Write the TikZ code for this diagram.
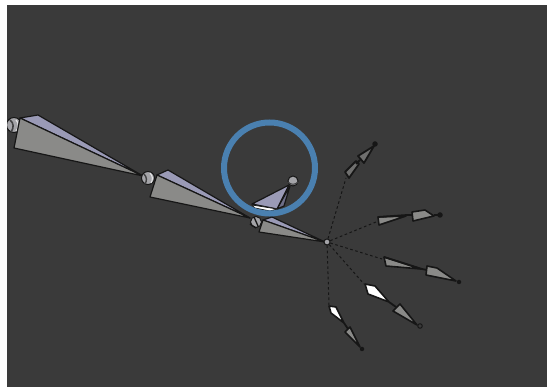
\documentclass[tikz,border=0pt]{standalone}
\definecolor{bg}{HTML}{3A3A3A}
\definecolor{grayface}{HTML}{8A8A88}
\definecolor{fingerface}{HTML}{6F6F6E}
\definecolor{lav}{HTML}{9A9AB6}
\definecolor{lavdark}{HTML}{6E6E88}
\definecolor{ring}{HTML}{4A80B0}
\definecolor{ball}{HTML}{A4A4A8}
\definecolor{ink}{HTML}{161616}
\tikzset{
  side/.style={fill=grayface,draw=ink,line width=1.2pt,line join=round},
  top/.style={fill=lav,draw=ink,line width=1.2pt,line join=round},
  finger/.style={fill=fingerface,draw=ink,line width=1.8pt,line join=round},
  finger light/.style={fill=grayface,draw=ink,line width=1.6pt,line join=round},
  finger white/.style={fill=white,draw=ink,line width=1.6pt,line join=round},
  joint/.style={circle,inner sep=0pt,fill=ball,draw=ink,line width=1pt},
  tipdot/.style={circle,inner sep=0pt,minimum size=5.5pt,fill=ink},
  link/.style={dash pattern=on 2.6pt off 2.6pt,draw=ink,line width=1pt},
  neck/.style={draw=ink,line width=1.8pt}
}
\begin{document}
\begin{tikzpicture}[x=1pt,y=-1pt]
\useasboundingbox (0,0) rectangle (547,387);
\fill[white] (0,0) rectangle (547,387);
\fill[bg] (7,5) rectangle (547,387);
% root joint
\begin{scope}
\clip (7,5) rectangle (547,387);
\node[joint,minimum size=15pt] (j0) at (14,125) {};
\draw[ink!70!ball,line width=1.6pt] (10,120) .. controls (14,123) and (14,128) .. (11,132);
\draw[white!70!ball,line width=1.2pt] (16,120) .. controls (19,123) and (19,128) .. (16,131);
\end{scope}
% arm bone 1
\fill[top] (20,118) -- (38,115) -- (143,176) -- cycle;
\fill[side] (20,118) -- (14,148) -- (143,176) -- cycle;
\node[joint,minimum size=13pt] (j1) at (148,178) {};
\draw[ink!70!ball,line width=1.4pt] (144,174) .. controls (147,177) and (147,181) .. (145,184);
\draw[white!70!ball,line width=1.1pt] (150,173) .. controls (153,176) and (153,180) .. (151,183);
% arm bone 2
\fill[top] (157,175) -- (168,170) -- (250,218) -- cycle;
\fill[side] (157,175) -- (150,197) -- (250,218) -- cycle;
% thumb
\filldraw[fill=lavdark,draw=ink,line width=1.2pt,line join=round] (277,209) -- (284,206) -- (290,186) -- cycle;
\filldraw[fill=lav,draw=ink,line width=1.2pt,line join=round] (252,204) -- (277,209) -- (289,185) -- cycle;
\filldraw[fill=white,draw=ink,line width=0.7pt] (252,205) -- (255,208) -- (270,211) -- (277,209) -- cycle;
\node[joint,minimum size=10pt] (thumbtip) at (293,181) {};
\draw[ink!70!ball,line width=1pt] (288,182) .. controls (291,185) and (295,185) .. (298,182);
% arm bone 3
\fill[top] (263,220) -- (272,217) -- (325,242) -- cycle;
\fill[side] (263,220) -- (259,232) -- (325,242) -- cycle;
\node[joint,minimum size=11pt] (j2) at (256,222) {};
\draw[ink,line width=1.3pt] (250,224) -- (256,228) (254,217) -- (258,226);
% dashed links
\node[joint,minimum size=6pt] (hub) at (327,242) {};
\coordinate (f1) at (346,178);
\coordinate (f2) at (376,222);
\coordinate (f3) at (382,259);
\coordinate (f4) at (364,284);
\coordinate (f5) at (329,305);
\draw[link] (hub) -- (f1);
\draw[link] (hub) -- (f2);
\draw[link] (hub) -- (f3);
\draw[link] (hub) -- (f4);
\draw[link] (hub) -- (f5);
% finger 1
\filldraw[finger] (345,172) -- (349,178) -- (359,164) -- (356,161) -- cycle;
\filldraw[finger] (358,156) -- (364,163) -- (374,146) -- cycle;
\draw[neck] (356,164) -- (360,160);
\node[tipdot] (t1) at (375,144) {};
% finger 2
\filldraw[finger light] (378,217) -- (379,225) -- (406,216) -- cycle;
\draw[neck] (378,217) -- (407,215) -- (412,215);
\filldraw[finger light] (412,212) -- (413,221) -- (434,216) -- (425,210) -- cycle;
\draw[neck] (434,215) -- (438,215);
\node[tipdot] (t2) at (440,215) {};
% finger 3
\filldraw[finger light] (384,257) -- (386,266) -- (421,269) -- cycle;
\draw[neck] (384,257) -- (422,269) -- (427,270);
\filldraw[finger light] (427,266) -- (426,275) -- (456,281) -- (437,268) -- cycle;
\node[tipdot,minimum size=4.5pt] (t3) at (459,282) {};
% finger 4
\filldraw[finger white] (365,284) -- (368,294) -- (389,302) -- (375,286) -- cycle;
\draw[neck] (389,302) -- (396,307);
\filldraw[finger light] (400,304) -- (393,311) -- (417,325) -- cycle;
\node[circle,inner sep=0pt,minimum size=4.5pt,fill=bg,draw=ink,line width=1pt] (t4) at (420,326) {};
% finger 5
\filldraw[finger white] (329,306) -- (331,313) -- (344,323) -- (336,307) -- cycle;
\draw[neck] (344,323) -- (348,329);
\filldraw[finger light] (350,327) -- (345,332) -- (360,347) -- cycle;
\node[tipdot,minimum size=4.5pt] (t5) at (362,349) {};
% ring
\node[circle,draw=ring,line width=6pt,inner sep=0pt,minimum size=91pt,outer sep=0pt] (selection) at (269.5,168) {};
\end{tikzpicture}
\end{document}
